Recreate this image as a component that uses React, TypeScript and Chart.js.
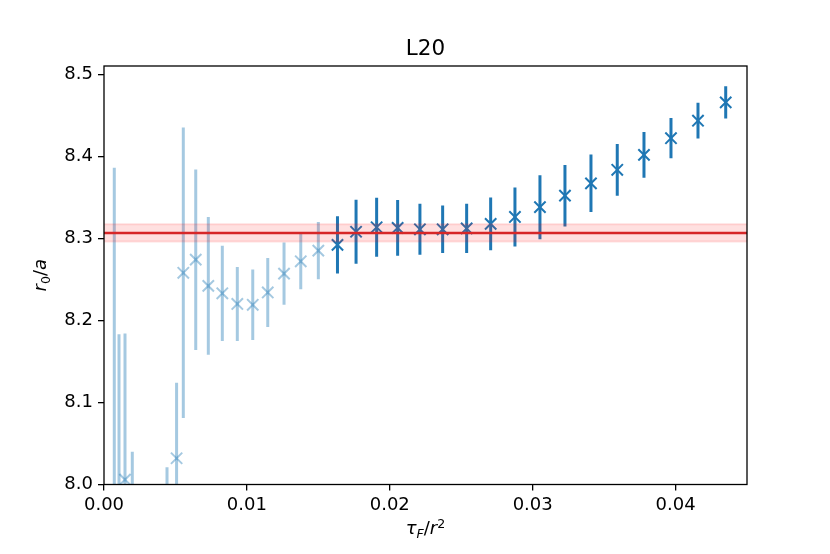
import { useEffect, useRef } from 'react';
import { Chart, registerables } from 'chart.js';

Chart.register(...registerables);

// ---- data ----
const lightX = [0.00072, 0.00105, 0.00147, 0.00198, 0.00441, 0.00508, 0.00555, 0.00642, 0.0073, 0.00828, 0.00933, 0.01041, 0.01146, 0.0126, 0.01377, 0.015];
const lightY = [7.9, 7.96, 8.006, 7.97, 7.95, 8.032, 8.258, 8.274, 8.242, 8.233, 8.22, 8.219, 8.234, 8.257, 8.272, 8.285];
const lightErr = [0.486, 0.223, 0.178, 0.07, 0.071, 0.092, 0.177, 0.11, 0.084, 0.058, 0.045, 0.043, 0.042, 0.038, 0.034, 0.035];

const darkX = [0.01634, 0.01764, 0.01908, 0.02055, 0.02211, 0.0237, 0.02538, 0.02706, 0.02876, 0.03051, 0.03226, 0.03408, 0.03592, 0.03779, 0.03968, 0.04157, 0.04351];
const darkY = [8.292, 8.308, 8.3135, 8.3127, 8.311, 8.311, 8.312, 8.3176, 8.326, 8.338, 8.352, 8.367, 8.3835, 8.4017, 8.422, 8.4433, 8.4657];
const darkErr = [0.035, 0.039, 0.036, 0.034, 0.031, 0.029, 0.03, 0.032, 0.036, 0.039, 0.0375, 0.035, 0.0315, 0.028, 0.0245, 0.0218, 0.0197];

const refValue = 8.3065;
const refErr = 0.0105;

const xRange = [0, 0.045];
const yRange = [8.0, 8.51];
const xTicks = [0, 0.01, 0.02, 0.03, 0.04];
const yTicks = [8.0, 8.1, 8.2, 8.3, 8.4, 8.5];

const titleText = 'L20';

const FONT = '"DejaVu Sans", sans-serif';

type Part = { t: string; italic?: boolean; shift?: 'sub' | 'sup' };

const xLabelParts: Part[] = [
  { t: 'τ', italic: true },
  { t: 'F', italic: true, shift: 'sub' },
  { t: '/' },
  { t: 'r', italic: true },
  { t: '2', shift: 'sup' },
];
const yLabelParts: Part[] = [
  { t: 'r', italic: true },
  { t: '0', shift: 'sub' },
  { t: '/' },
  { t: 'a', italic: true },
];

function partFont(p: Part, size: number) {
  const s = p.shift ? size * 0.7 : size;
  return `${p.italic ? 'italic ' : ''}${s}px ${FONT}`;
}

function drawMath(ctx: CanvasRenderingContext2D, parts: Part[], cx: number, cy: number, size: number, rotate: boolean) {
  ctx.save();
  ctx.translate(cx, cy);
  if (rotate) ctx.rotate(-Math.PI / 2);
  ctx.textBaseline = 'alphabetic';
  ctx.textAlign = 'left';
  let total = 0;
  const widths = parts.map((p) => {
    ctx.font = partFont(p, size);
    const w = ctx.measureText(p.t).width;
    total += w;
    return w;
  });
  let x = -total / 2;
  const base = size * 0.36;
  parts.forEach((p, i) => {
    ctx.font = partFont(p, size);
    ctx.fillStyle = '#000';
    let dy = 0;
    if (p.shift === 'sub') dy = size * 0.2;
    if (p.shift === 'sup') dy = -size * 0.38;
    ctx.fillText(p.t, x, base + dy);
    x += widths[i];
  });
  ctx.restore();
}

const errorBarPlugin = {
  id: 'errorBars',
  beforeDatasetsDraw(chart: any) {
    const { ctx, chartArea, scales } = chart;
    const xs = scales.x;
    const ys = scales.y;
    ctx.save();
    ctx.beginPath();
    ctx.rect(chartArea.left, chartArea.top, chartArea.right - chartArea.left, chartArea.bottom - chartArea.top);
    ctx.clip();
    chart.data.datasets.forEach((ds: any) => {
      if (!ds.errors) return;
      ctx.strokeStyle = ds.errorColor;
      ctx.lineWidth = 3;
      ds.data.forEach((pt: any, i: number) => {
        const e = ds.errors[i];
        const px = xs.getPixelForValue(pt.x);
        ctx.beginPath();
        ctx.moveTo(px, ys.getPixelForValue(pt.y - e));
        ctx.lineTo(px, ys.getPixelForValue(pt.y + e));
        ctx.stroke();
      });
    });
    ctx.restore();
  },
  afterDraw(chart: any) {
    const { ctx, chartArea } = chart;
    ctx.save();
    ctx.strokeStyle = '#000';
    ctx.lineWidth = 1.3;
    ctx.strokeRect(chartArea.left, chartArea.top, chartArea.right - chartArea.left, chartArea.bottom - chartArea.top);
    // title
    ctx.fillStyle = '#000';
    ctx.font = `21.5px ${FONT}`;
    ctx.textAlign = 'center';
    ctx.textBaseline = 'alphabetic';
    ctx.fillText(titleText, (chartArea.left + chartArea.right) / 2, chartArea.top - 11.5);
    ctx.restore();
    drawMath(ctx, xLabelParts, (chartArea.left + chartArea.right) / 2, 528, 18, false);
    drawMath(ctx, yLabelParts, 40, (chartArea.top + chartArea.bottom) / 2, 18, true);
  },
};

export default function App() {
  const ref = useRef<HTMLCanvasElement | null>(null);
  useEffect(() => {
    document.body.style.margin = '0';
    const canvas = ref.current;
    if (!canvas) return;
    const blue = '#1f77b4';
    const lightBlue = 'rgba(31,119,180,0.4)';
    const redLine = '#d62728';
    const bandFill = 'rgba(255,0,0,0.12)';
    const bandEdge = 'rgba(255,0,0,0.12)';

    const chart = new Chart(canvas, {
      type: 'scatter',
      data: {
        datasets: [
          {
            type: 'line',
            data: xRange.map((x) => ({ x, y: refValue - refErr })),
            borderColor: bandEdge,
            borderWidth: 2,
            pointRadius: 0,
            fill: false,
            order: 2,
          },
          {
            type: 'line',
            data: xRange.map((x) => ({ x, y: refValue + refErr })),
            borderColor: bandEdge,
            backgroundColor: bandFill,
            borderWidth: 2,
            pointRadius: 0,
            fill: '-1',
            order: 1,
          },
          {
            type: 'line',
            data: xRange.map((x) => ({ x, y: refValue })),
            borderColor: redLine,
            borderWidth: 2.7,
            pointRadius: 0,
            fill: false,
            order: 0,
          },
          {
            data: lightX.map((x, i) => ({ x, y: lightY[i] })),
            errors: lightErr,
            errorColor: lightBlue,
            pointStyle: 'crossRot',
            pointRadius: 8,
            borderWidth: 2,
            borderColor: lightBlue,
            backgroundColor: lightBlue,
            order: 4,
          } as any,
          {
            data: darkX.map((x, i) => ({ x, y: darkY[i] })),
            errors: darkErr,
            errorColor: blue,
            pointStyle: 'crossRot',
            pointRadius: 8,
            borderWidth: 2,
            borderColor: blue,
            backgroundColor: blue,
            order: 3,
          } as any,
        ],
      },
      options: {
        responsive: false,
        animation: false,
        devicePixelRatio: 1,
        layout: { padding: { top: 66, right: 83, left: 0, bottom: 0 } },
        plugins: {
          legend: { display: false },
          tooltip: { enabled: false },
          title: { display: false },
        },
        scales: {
          x: {
            type: 'linear',
            min: xRange[0],
            max: xRange[1],
            afterFit: (s: any) => {
              s.height = 69.5;
            },
            afterBuildTicks: (s: any) => {
              s.ticks = xTicks.map((v) => ({ value: v }));
            },
            ticks: {
              color: '#000',
              font: { family: FONT, size: 18 },
              padding: 4,
              maxRotation: 0,
              autoSkip: false,
              callback: (v: any) => Number(v).toFixed(2),
            },
            grid: { display: true, drawOnChartArea: false, drawTicks: true, tickLength: 6, color: '#000', lineWidth: 1.3 },
            border: { display: false },
          },
          y: {
            type: 'linear',
            min: yRange[0],
            max: yRange[1],
            afterFit: (s: any) => {
              s.width = 104;
            },
            afterBuildTicks: (s: any) => {
              s.ticks = yTicks.map((v) => ({ value: v }));
            },
            ticks: {
              color: '#000',
              font: { family: FONT, size: 18 },
              padding: 5,
              autoSkip: false,
              callback: (v: any) => Number(v).toFixed(1),
            },
            grid: { display: true, drawOnChartArea: false, drawTicks: true, tickLength: 6, color: '#000', lineWidth: 1.3 },
            border: { display: false },
          },
        },
      },
      plugins: [errorBarPlugin],
    } as any);
    return () => chart.destroy();
  }, []);

  return (
    <div style={{ position: 'absolute', left: 0, top: 0, width: 830, height: 554, background: '#fff' }}>
      <canvas ref={ref} width={830} height={554} style={{ width: 830, height: 554 }} />
    </div>
  );
}
